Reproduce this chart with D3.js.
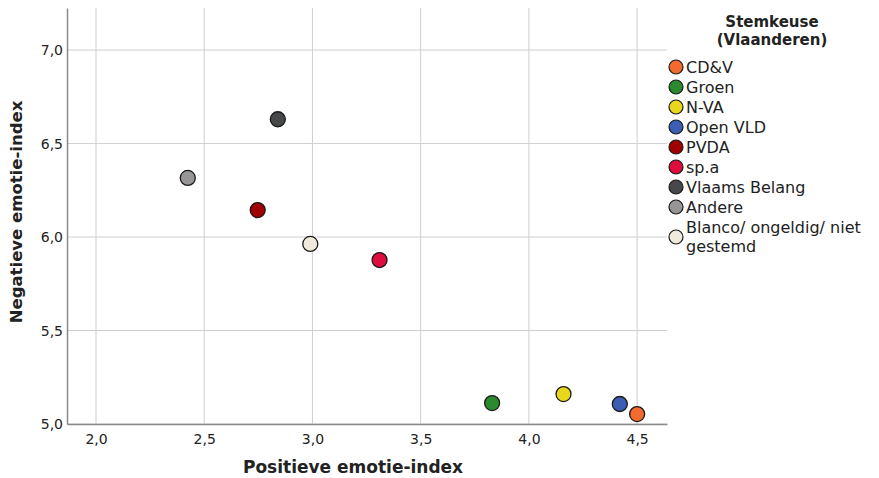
<!DOCTYPE html>
<html>
<head>
<meta charset="utf-8">
<script src="https://cdn.jsdelivr.net/npm/d3@7"></script>
<style>
  body { margin: 0; background: #fff; }
  text { font-family: "DejaVu Sans", sans-serif; fill: #222; }
</style>
</head>
<body>
<svg></svg>
<script>
// data
var partijen = ["CD&V", "Groen", "N-VA", "Open VLD", "PVDA", "sp.a", "Vlaams Belang", "Andere", "Blanco/ ongeldig/ niet gestemd"]
var positief = [4.50, 3.83, 4.16, 4.42, 2.747, 3.31, 2.84, 2.424, 2.99]
var negatief = [5.053, 5.112, 5.16, 5.107, 6.144, 5.877, 6.63, 6.316, 5.963]
var kleuren = ["#f26a2e", "#2c8a2e", "#e9d71c", "#3b5db2", "#a00000", "#de0d3d", "#46484a", "#979595", "#efeadb"]
var xTicks = [2.0, 2.5, 3.0, 3.5, 4.0, 4.5]
var yTicks = [5.0, 5.5, 6.0, 6.5, 7.0]

var svg = d3.select("svg")
    .attr("width", 879)
    .attr("height", 478);

var links = 67, rechts = 667, boven = 8, onder = 424;

var x = d3.scaleLinear().domain([1.866, 4.638]).range([links, rechts]);
var y = d3.scaleLinear().domain([5.0, 7.225]).range([onder, boven]);

var fmt = function (d) { return d3.format(".1f")(d).replace(".", ","); };

// rasterlijnen
svg.append("g").selectAll("line").data(xTicks).enter().append("line")
    .attr("x1", d => x(d)).attr("x2", d => x(d))
    .attr("y1", boven).attr("y2", onder)
    .style("stroke", "#cfcfcf").style("stroke-width", 1);

svg.append("g").selectAll("line").data(yTicks).enter().append("line")
    .attr("x1", links).attr("x2", rechts)
    .attr("y1", d => y(d)).attr("y2", d => y(d))
    .style("stroke", "#cfcfcf").style("stroke-width", 1);

// assen
var xAs = svg.append("g")
    .attr("transform", "translate(0," + onder + ")")
    .call(d3.axisBottom(x).tickValues(xTicks).tickFormat(fmt).tickSize(0).tickPadding(10));
xAs.select(".domain").style("stroke", "#8a8a8a").style("stroke-width", 1.5);
xAs.selectAll("text").style("font-size", "14px").style("fill", "#222");

var yAs = svg.append("g")
    .attr("transform", "translate(" + links + ",0)")
    .call(d3.axisLeft(y).tickValues(yTicks).tickFormat(fmt).tickSize(0).tickPadding(4));
yAs.select(".domain").style("stroke", "#8a8a8a").style("stroke-width", 1.5);
yAs.selectAll("text").style("font-size", "14px").style("fill", "#222");

// astitels
svg.append("text")
    .attr("x", 353)
    .attr("y", 473)
    .attr("text-anchor", "middle")
    .style("font-size", "17px").style("font-weight", "bold")
    .text("Positieve emotie-index");

svg.append("text")
    .attr("transform", "translate(22,212) rotate(-90)")
    .attr("text-anchor", "middle")
    .style("font-size", "16.5px").style("font-weight", "bold")
    .text("Negatieve emotie-index");

// punten
svg.append("g").selectAll("circle").data(partijen).enter().append("circle")
    .attr("cx", (d, i) => x(positief[i]))
    .attr("cy", (d, i) => y(negatief[i]))
    .attr("r", 7.5)
    .attr("fill", (d, i) => kleuren[i])
    .style("stroke", "#1a1a1a").style("stroke-width", 1.3);

// legende
var legX = 676;
svg.append("text").attr("x", 772).attr("y", 27).attr("text-anchor", "middle")
    .style("font-size", "15px").style("font-weight", "bold").text("Stemkeuse");
svg.append("text").attr("x", 772).attr("y", 45).attr("text-anchor", "middle")
    .style("font-size", "15px").style("font-weight", "bold").text("(Vlaanderen)");

var legY = [67, 87, 107, 127, 147, 167, 187, 207, 237];
var leg = svg.append("g").selectAll("g").data(partijen).enter().append("g")
    .attr("transform", (d, i) => "translate(" + legX + "," + legY[i] + ")");

leg.append("circle")
    .attr("r", 7)
    .attr("fill", (d, i) => kleuren[i])
    .style("stroke", "#1a1a1a").style("stroke-width", 1.2);

leg.each(function (d, i) {
    var t = d3.select(this).append("text").attr("x", 10).style("font-size", "16px");
    if (i == 8) {
        t.append("tspan").attr("x", 10).attr("y", -4).text("Blanco/ ongeldig/ niet");
        t.append("tspan").attr("x", 10).attr("y", 15).text("gestemd");
    } else {
        t.attr("y", 6).text(d);
    }
});
</script>
</body>
</html>
